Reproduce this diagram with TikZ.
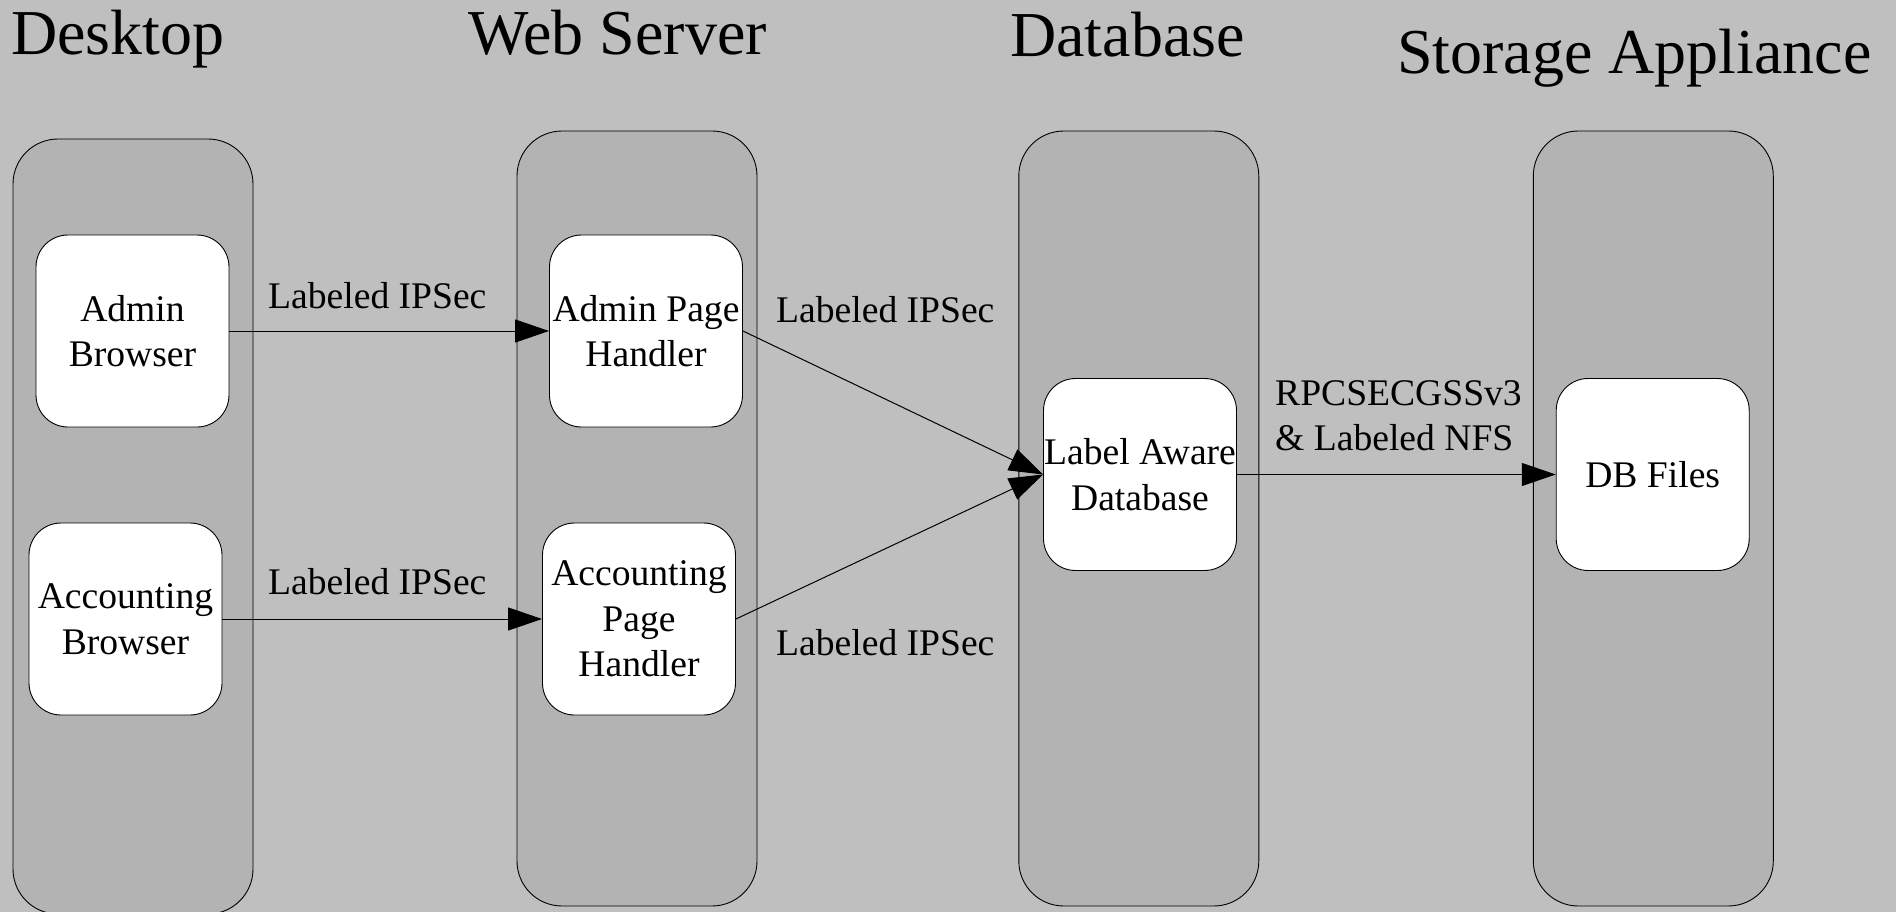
\documentclass[tikz,border=0pt]{standalone}
\usepackage{fontspec}
\setmainfont{Liberation Serif}
\usetikzlibrary{arrows.meta}
\definecolor{bgc}{RGB}{191,191,191}
\definecolor{lanec}{RGB}{179,179,179}
\begin{document}
\begin{tikzpicture}[x=1pt,y=-1pt,
  lane/.style={draw=black, line width=0.9pt, fill=lanec, rounded corners=45pt,
    minimum width=240pt, minimum height=775pt, inner sep=0pt},
  box/.style={draw=black, line width=0.9pt, fill=white, rounded corners=32pt,
    minimum width=193pt, minimum height=192pt, inner sep=0pt, align=center,
    font=\fontsize{37.6}{45.7}\selectfont},
  title/.style={anchor=base west, inner sep=0pt, font=\fontsize{64}{76}\selectfont},
  lbl/.style={anchor=base west, inner sep=0pt, font=\fontsize{37.6}{45.7}\selectfont},
  conn/.style={line width=1pt, -{Triangle[length=34pt,width=23pt]}}]
\fill[bgc] (0,0) rectangle (1896,912);
\useasboundingbox (0,0) rectangle (1896,912);
% lanes
\node[lane] (deskLane) at (133,526.5) {};
\node[lane] (webLane) at (637,518.5) {};
\node[lane] (dbLane) at (1138.8,518.5) {};
\node[lane] (stoLane) at (1653.3,518.5) {};
% titles
\node[title] (tDesk) at (11,55) {Desktop};
\node[title] (tWeb) at (468,55) {Web Server};
\node[title] (tDb) at (1010,57) {Database};
\node[title] (tSto) at (1397,74) {Storage Appliance};
% boxes
\node[box] (ab) at (132.5,331) {Admin\\Browser};
\node[box] (aph) at (646,331) {Admin Page\\Handler};
\node[box] (acb) at (125.5,619) {Accounting\\Browser};
\node[box] (acph) at (639,619) {Accounting\\Page\\Handler};
\node[box] (db) at (1140,474.5) {Label Aware\\Database};
\node[box] (dbf) at (1652.7,474.5) {DB Files};
% connectors
\draw[conn] (ab.east) -- (aph.west);
\draw[conn] (acb.east) -- (acph.west);
\draw[conn] (aph.east) -- (db.west);
\draw[conn] (acph.east) -- (db.west);
\draw[conn] (db.east) -- (dbf.west);
% labels
\node[lbl] (l1) at (268,308) {Labeled IPSec};
\node[lbl] (l2) at (268,594) {Labeled IPSec};
\node[lbl] (l3) at (776,322) {Labeled IPSec};
\node[lbl] (l4) at (776,655) {Labeled IPSec};
\node[lbl] (l5) at (1275,405) {\begin{tabular}[t]{@{}l@{}}RPCSECGSSv3\\\& Labeled NFS\end{tabular}};
\end{tikzpicture}
\end{document}
